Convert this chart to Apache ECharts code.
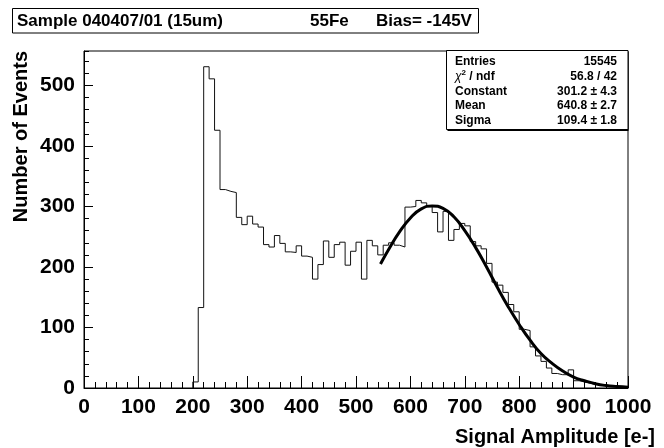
<!DOCTYPE html>
<html>
<head>
<meta charset="utf-8">
<script src="https://cdn.jsdelivr.net/npm/echarts@6/dist/echarts.min.js"></script>
<style>
  html, body { margin: 0; padding: 0; background: #fff; }
  #chart { width: 664px; height: 448px; }
</style>
</head>
<body>
<div id="chart"></div>
<script>
const FONT = "'Liberation Sans', Arial, Helvetica, sans-serif";

// histogram: 10 e- bins starting at 200 (empty below)
const BIN_START = 200;
const BIN_WIDTH = 10;
const binCounts = [
  10, 133, 531, 511, 426, 328, 325, 323, 282, 270,   // 200-290
  284, 271, 266, 237, 233, 252, 239, 225, 224, 235,  // 300-390
  218, 216, 180, 204, 243, 216, 237, 241, 203, 226,  // 400-490
  241, 180, 244, 235, 220, 236, 240, 236, 233, 299,  // 500-590
  300, 310, 306, 300, 290, 258, 292, 244, 262, 272,  // 600-690
  268, 242, 235, 230, 206, 175, 170, 158, 138, 126,  // 700-790
  97, 95, 68, 53, 44, 33, 24, 22, 22, 30,            // 800-890
  12, 10, 8, 6, 5, 4, 3, 2, 2, 1                     // 900-990
];

// gaussian fit curve
const fitX = [545, 560, 580, 600, 620, 640, 660, 680, 700, 720, 740, 760,
              780, 800, 820, 840, 860, 880, 900, 920, 940, 960, 980, 1000];
const fitY = [205, 229, 258, 281, 296, 301, 297, 283, 260, 232, 200, 166,
              134, 105, 79, 57, 41, 28, 18, 12, 7, 4, 2.5, 1.4];

const titleParts = ['Sample 040407/01 (15um)', '55Fe', 'Bias= -145V'];
const statLabels = ['Entries', '{chi|χ}{sup|2}{b| / ndf}', 'Constant', 'Mean', 'Sigma'];
const statValues = ['15545', '56.8 / 42', '301.2 ± 4.3', '640.8 ± 2.7', '109.4 ± 1.8'];

const xTitle = 'Signal Amplitude [e-]';
const yTitle = 'Number of Events';

const histPoints = [[BIN_START, 0]];
binCounts.forEach((c, i) => histPoints.push([BIN_START + i * BIN_WIDTH, c]));
histPoints.push([BIN_START + binCounts.length * BIN_WIDTH, binCounts[binCounts.length - 1]]);

const fitPoints = fitX.map((x, i) => [x, fitY[i]]);

const chart = echarts.init(document.getElementById('chart'), null, { renderer: 'canvas' });

const black = { color: '#000', width: 1 };
const labelStyle = { color: '#000', fontSize: 21, fontWeight: 'bold', fontFamily: FONT };

// stats box rows
const statGraphics = [];
statLabels.forEach((lab, i) => {
  const y = 61.7 + i * 14.75;
  statGraphics.push({
    type: 'text', x: 455, y: y, z: 12,
    style: {
      text: lab, fill: '#000', font: 'bold 12px ' + FONT,
      textAlign: 'left', textVerticalAlign: 'middle',
      rich: {
        chi: { fontSize: 12, fontStyle: 'italic', fontFamily: FONT, fill: '#000' },
        sup: { fontSize: 8, fontWeight: 'bold', fontFamily: FONT, fill: '#000', padding: [0, 0, 7, 0] },
        b: { fontSize: 12, fontWeight: 'bold', fontFamily: FONT, fill: '#000' }
      }
    }
  });
  statGraphics.push({
    type: 'text', x: 617, y: y, z: 12,
    style: {
      text: statValues[i], fill: '#000', font: 'bold 12px ' + FONT,
      textAlign: 'right', textVerticalAlign: 'middle'
    }
  });
});

const option = {
  animation: false,
  backgroundColor: '#fff',
  grid: {
    left: 84, right: 36, top: 51, bottom: 60,
    show: true, borderColor: '#000', borderWidth: 1,
    outerBoundsMode: 'none'
  },
  xAxis: {
    type: 'value', min: 0, max: 1000, interval: 100,
    axisLine: { show: true, onZero: false, lineStyle: black },
    axisTick: { show: true, inside: true, length: 12, lineStyle: black },
    minorTick: { show: true, splitNumber: 5, length: 6, lineStyle: black },
    splitLine: { show: false },
    axisLabel: Object.assign({
      margin: 9, showMinLabel: true, showMaxLabel: true,
      formatter: v => String(v)
    }, labelStyle)
  },
  yAxis: [
    {
      type: 'value', min: 0, max: 557, interval: 100,
      axisLine: { show: true, onZero: false, lineStyle: black },
      axisTick: { show: true, inside: true, length: 9, lineStyle: black },
      splitLine: { show: false },
      axisLabel: Object.assign({ margin: 9, showMaxLabel: false, formatter: v => String(v) }, labelStyle)
    },
    {
      // minor ticks every 20
      type: 'value', min: 0, max: 557, interval: 20, position: 'left',
      axisLine: { show: false },
      axisTick: { show: true, inside: true, length: 5, lineStyle: black },
      splitLine: { show: false },
      axisLabel: { show: false }
    }
  ],
  series: [
    {
      type: 'line', data: histPoints, step: 'end', symbol: 'none',
      lineStyle: { color: '#111', width: 1 }, silent: true, z: 2
    },
    {
      type: 'line', data: fitPoints, smooth: true, symbol: 'none',
      lineStyle: { color: '#000', width: 3 }, silent: true, z: 3
    }
  ],
  graphic: [
    // title box
    {
      type: 'rect', shape: { x: 12.5, y: 8.5, width: 466, height: 24.5 },
      style: { fill: '#fff', stroke: '#000', lineWidth: 1 }, z: 10
    },
    { type: 'text', x: 17, y: 21, z: 11,
      style: { text: titleParts[0], font: 'bold 17px ' + FONT, fill: '#000', textVerticalAlign: 'middle' } },
    { type: 'text', x: 310, y: 21, z: 11,
      style: { text: titleParts[1], font: 'bold 17px ' + FONT, fill: '#000', textVerticalAlign: 'middle' } },
    { type: 'text', x: 376, y: 21, z: 11,
      style: { text: titleParts[2], font: 'bold 17px ' + FONT, fill: '#000', textVerticalAlign: 'middle' } },
    // stats box with shadow
    {
      type: 'rect', shape: { x: 447.5, y: 52, width: 181, height: 79 },
      style: { fill: '#000' }, z: 9
    },
    {
      type: 'rect', shape: { x: 446.5, y: 50.5, width: 181.5, height: 79 },
      style: { fill: '#fff', stroke: '#000', lineWidth: 1 }, z: 10
    },
    { type: 'group', z: 11, children: statGraphics },
    // axis titles
    { type: 'text', x: 655, y: 437, z: 11,
      style: { text: xTitle, font: 'bold 20px ' + FONT, fill: '#000', textAlign: 'right', textVerticalAlign: 'middle' } },
    { type: 'text', x: 21, y: 51, rotation: Math.PI / 2, z: 11,
      style: { text: yTitle, font: 'bold 20px ' + FONT, fill: '#000', textAlign: 'right', textVerticalAlign: 'middle' } }
  ]
};

chart.setOption(option);
</script>
</body>
</html>
